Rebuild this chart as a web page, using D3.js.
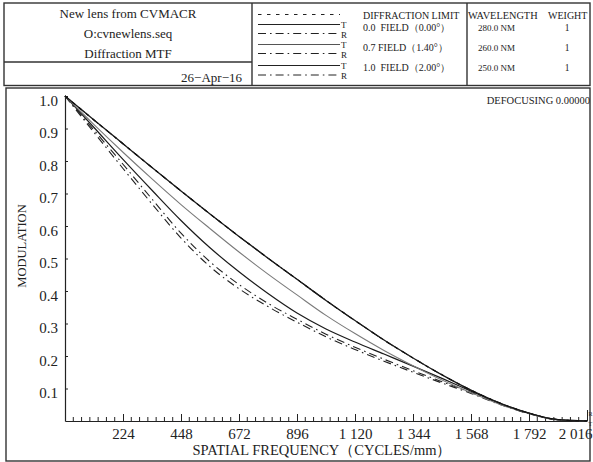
<!DOCTYPE html>
<html><head><meta charset="utf-8">
<script src="https://cdn.jsdelivr.net/npm/d3@7"></script>
<style>
body{margin:0;background:#fff;}
svg{display:block;}
svg text{font-family:"Liberation Serif","Times New Roman",Times,"DejaVu Serif",serif !important;fill:#222;}
</style></head>
<body><svg id="c" width="593" height="462"></svg>
<script>
// ---- data ----
const freq = [0,112,224,336,448,560,672,784,896,1008,1120,1232,1344,1456,1568,1680,1792,1904,2016];
const diffLimit = [1.0,0.926,0.853,0.780,0.708,0.637,0.568,0.501,0.436,0.371,0.309,0.249,0.194,0.142,0.095,0.055,0.024,0.004,0.0];
const field00T  = [1.0,0.926,0.853,0.780,0.708,0.637,0.568,0.501,0.436,0.371,0.309,0.249,0.194,0.142,0.095,0.055,0.024,0.004,0.0];
const field00R  = [1.0,0.926,0.853,0.780,0.708,0.637,0.568,0.501,0.436,0.371,0.309,0.249,0.194,0.142,0.095,0.055,0.024,0.004,0.0];
const field07T  = [1.0,0.912,0.827,0.745,0.666,0.592,0.520,0.452,0.388,0.325,0.269,0.217,0.170,0.126,0.087,0.051,0.023,0.003,0.0];
const field07R  = [1.0,0.895,0.790,0.683,0.578,0.490,0.420,0.362,0.313,0.267,0.227,0.190,0.155,0.121,0.088,0.053,0.023,0.004,0.0];
const field10T  = [1.0,0.903,0.805,0.710,0.617,0.533,0.459,0.392,0.332,0.283,0.243,0.206,0.169,0.131,0.092,0.054,0.024,0.004,0.0];
const field10R  = [1.0,0.888,0.777,0.668,0.563,0.475,0.407,0.352,0.304,0.259,0.220,0.184,0.150,0.117,0.085,0.051,0.022,0.004,0.0];
const xTickValues = [224,448,672,896,1120,1344,1568,1792,2016];
const xTickLabels = ["224","448","672","896","1 120","1 344","1 568","1 792","2 016"];
const yTickValues = [0.1,0.2,0.3,0.4,0.5,0.6,0.7,0.8,0.9,1.0];
const yTickLabels = ["0.1","0.2","0.3","0.4","0.5","0.6","0.7","0.8","0.9","1.0"];
const titleLines = ["New lens from CVMACR","O:cvnewlens.seq","Diffraction MTF"];
const dateLabel = "26\u2212Apr\u221216";
const fieldLabels = ["0.0  FIELD\uFF080.00\u00B0\uFF09","0.7 FIELD\uFF081.40\u00B0\uFF09","1.0  FIELD\uFF082.00\u00B0\uFF09"];
const wavelengths = ["280.0 NM","260.0 NM","250.0 NM"];
const weights = ["1","1","1"];

const FONT = "'Liberation Serif','Times New Roman',Times,'DejaVu Serif',serif";
const svg = d3.select("#c");
const DASHDOT = "8,4,1.6,4";
const DOT = "3.5,5.5";
function txt(x,y,size,s){return svg.append("text").attr("x",x).attr("y",y).attr("font-size",size).attr("font-family",FONT).text(s);}

// ---- header ----
function rect(x,y,w,h){return svg.append("rect").attr("x",x).attr("y",y).attr("width",w).attr("height",h).attr("stroke","#333").attr("stroke-width",1.4).attr("fill","none");}
function line(x1,y1,x2,y2,o={}){const l=svg.append("line").attr("x1",x1).attr("y1",y1).attr("x2",x2).attr("y2",y2).attr("stroke",o.stroke||"#333").attr("stroke-width",o.w||1.4);if(o.dash)l.attr("stroke-dasharray",o.dash);return l;}
rect(4,3,586,82.5);
line(252,3,252,85.5);
line(467,3,467,85.5);
line(4,62,252,62);
titleLines.forEach((t,i)=>txt(128,18+i*20,13,t).attr("text-anchor","middle"));
txt(242,82,13,dateLabel).attr("text-anchor","end");

// legend samples
line(258,14.5,340,14.5,{w:1,dash:DOT,stroke:"#222"});
const tY=[24.5,44.5,65.5], rY=[33.5,53.5,75];
const tCols=["#222","#555","#222"];
tY.forEach((y,i)=>{
  line(258,y,340,y,{w:1,stroke:tCols[i]});
  line(258,rY[i],340,rY[i],{w:1,dash:DASHDOT,stroke:"#222"});
  txt(341,y+3,9,"T");
  txt(341,rY[i]+4,9,"R");
});
txt(363,19,10,"DIFFRACTION LIMIT");
const rowBase=[31,50.5,71];
fieldLabels.forEach((t,i)=>txt(363,rowBase[i],10,t).style("white-space","pre"));
txt(468,19,10.3,"WAVELENGTH");
txt(548,19,10,"WEIGHT");
wavelengths.forEach((t,i)=>txt(478,rowBase[i],9,t));
weights.forEach((t,i)=>txt(567,rowBase[i],9.5,t).attr("text-anchor","middle"));

// ---- plot box ----
rect(6,88,584,373);
txt(590,104,10.5,"DEFOCUSING 0.00000").attr("text-anchor","end");

const x = d3.scaleLinear().domain([0,2016]).range([65,587]);
const y = d3.scaleLinear().domain([0,1]).range([421,96]);

// minor x ticks
const minor = d3.range(32,2016,32).filter(v=>v%224!==0);
svg.append("g").selectAll("line").data(minor).join("line")
  .attr("x1",d=>x(d)).attr("x2",d=>x(d)).attr("y1",y(0)).attr("y2",y(0)-4)
  .attr("stroke","#222").attr("stroke-width",1);

const xAxis = d3.axisBottom(x).tickValues(xTickValues)
  .tickFormat((d,i)=>xTickLabels[i]).tickSizeInner(-7).tickSizeOuter(0).tickPadding(7);
const gx = svg.append("g").attr("transform",`translate(0,${y(0)})`).call(xAxis).attr("font-family",FONT);
gx.select(".domain").attr("stroke","#222").attr("stroke-width",1.2);
gx.selectAll(".tick line").attr("stroke","#222").attr("stroke-width",1);
gx.selectAll("text").attr("font-size",15).attr("fill","#222").attr("font-family",FONT);
gx.selectAll(".tick").filter(d=>d===2016).select("text").attr("x",-12);
gx.selectAll(".tick").filter(d=>d===2016).select("line").attr("y2",-11);

const yAxis = d3.axisLeft(y).tickValues(yTickValues)
  .tickFormat((d,i)=>yTickLabels[i]).tickSizeInner(-3).tickSizeOuter(0).tickPadding(7);
const gy = svg.append("g").attr("transform",`translate(${x(0)},0)`).call(yAxis).attr("font-family",FONT);
gy.select(".domain").attr("stroke","#222").attr("stroke-width",1.2);
gy.selectAll(".tick line").attr("stroke","#222").attr("stroke-width",1);
gy.selectAll("text").attr("font-size",15).attr("fill","#222").attr("dy","0.6em").attr("font-family",FONT);

// axis titles
txt(322,455,14.5,"SPATIAL FREQUENCY\uFF08CYCLES/mm\uFF09").attr("text-anchor","middle");
svg.append("text").attr("transform","translate(26,246) rotate(-90)").attr("text-anchor","middle")
  .attr("font-size",12.5).attr("font-family",FONT).text("MODULATION");

// tiny end labels
txt(588.5,416,6,"R");
txt(588.5,426,6,"T");

// ---- curves ----
const series = [
  {v:field10R, c:"#222", w:1.1, d:DASHDOT},
  {v:field07R, c:"#222", w:1.1, d:DASHDOT},
  {v:field00R, c:"#222", w:1.1, d:DASHDOT},
  {v:field10T, c:"#1a1a1a", w:1.2, d:null},
  {v:field07T, c:"#7a7a7a", w:1.1, d:null},
  {v:field00T, c:"#1a1a1a", w:1.3, d:null},
  {v:diffLimit, c:"#111", w:1.2, d:DOT}
];
const gen = d3.line().x(d=>x(d[0])).y(d=>y(d[1])).curve(d3.curveMonotoneX);
series.forEach(s=>{
  const p = svg.append("path").datum(freq.map((f,i)=>[f,s.v[i]]))
    .attr("d",gen).attr("fill","none").attr("stroke",s.c).attr("stroke-width",s.w);
  if(s.d) p.attr("stroke-dasharray",s.d);
});
</script></body></html>
